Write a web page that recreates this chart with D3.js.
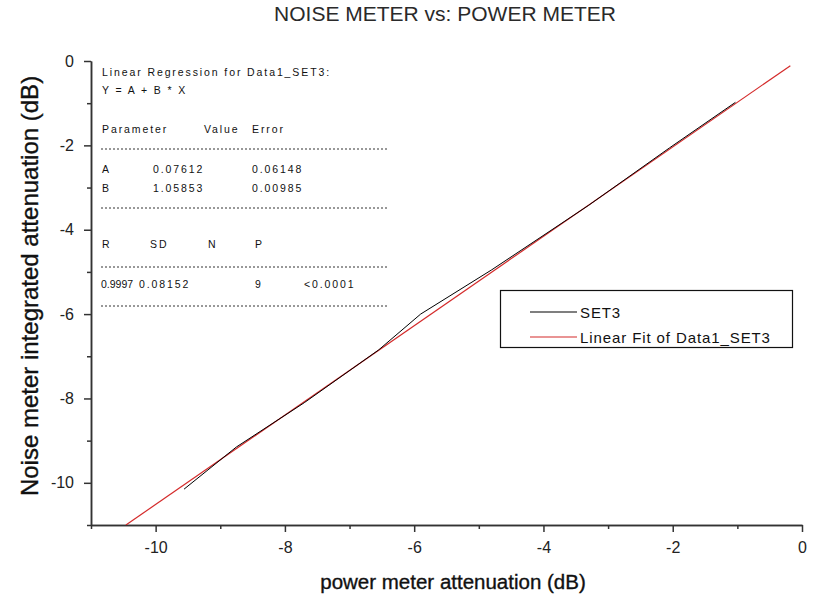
<!DOCTYPE html>
<html>
<head>
<meta charset="utf-8">
<script src="https://cdn.jsdelivr.net/npm/d3@7"></script>
<style>
  body { margin: 0; background: #fff; }
  svg text { font-family: Arial, "Liberation Sans", sans-serif; fill: #111; }
</style>
</head>
<body>
<script>
// SET3 measurements (power meter dB vs noise meter dB)
var powerMeter = [-9.56, -8.75, -7.70, -6.55, -5.90, -4.80, -3.30, -2.05, -1.03];
var noiseMeter = [-10.15, -9.15, -8.10, -6.85, -6.00, -4.95, -3.42, -2.06, -0.98];

// linear fit line, end points
var fitX = [-10.46, -0.18];
var fitY = [-11.0, -0.11];

var majorTicks = [-10, -8, -6, -4, -2, 0];
var minorTicks = [-11, -9, -7, -5, -3, -1];

var statsHead = ["Linear Regression for Data1_SET3:", "Y = A + B * X"];
var paramHead = ["Parameter", "Value", "Error"];
var paramRows = [["A", "0.07612", "0.06148"], ["B", "1.05853", "0.00985"]];
var fitHead = ["R", "SD", "N", "P"];
var fitRow = ["0.9997", "0.08152", "9", "<0.0001"];

var seriesNames = ["SET3", "Linear Fit of Data1_SET3"];
var seriesColors = ["#000000", "#d42a2a"];

var W = 819, H = 599;

var svg = d3.select("body").append("svg")
    .attr("width", W)
    .attr("height", H);

var x = d3.scaleLinear().domain([-11, 0]).range([91, 802]);
var y = d3.scaleLinear().domain([-11, 0]).range([525, 61]);

svg.append("clipPath").attr("id", "plot")
  .append("rect")
    .attr("x", x(-11)).attr("y", y(0))
    .attr("width", x(0) - x(-11)).attr("height", y(-11) - y(0));

// title and axis titles
svg.append("text")
    .attr("x", 445).attr("y", 21)
    .attr("text-anchor", "middle")
    .style("font-size", "21px")
    .style("fill", "#2a2a2a")
    .text("NOISE METER vs: POWER METER");

svg.append("text")
    .attr("x", 453).attr("y", 589)
    .attr("text-anchor", "middle")
    .style("font-size", "20.5px")
    .style("stroke", "#111").style("stroke-width", 0.35)
    .text("power meter attenuation (dB)");

svg.append("text")
    .attr("transform", "translate(38," + 286 + ") rotate(-90)")
    .attr("text-anchor", "middle")
    .style("font-size", "24px")
    .style("stroke", "#111").style("stroke-width", 0.35)
    .text("Noise meter integrated attenuation (dB)");

// axes: major ticks with labels, minor ticks without
var fmt = function(d){ return d3.format("d")(d).replace("\u2212", "-"); };

var gx = svg.append("g").attr("transform", "translate(0," + y(-11) + ")");
gx.append("g").call(d3.axisBottom(x).tickValues(minorTicks).tickSize(4).tickSizeOuter(0).tickFormat(""));
var gxMajor = gx.append("g").call(d3.axisBottom(x).tickValues(majorTicks).tickSize(7).tickSizeOuter(0).tickFormat(fmt));

var gy = svg.append("g").attr("transform", "translate(" + x(-11) + ",0)");
gy.append("g").call(d3.axisLeft(y).tickValues(minorTicks).tickSize(4).tickSizeOuter(0).tickFormat(""));
var gyMajor = gy.append("g").call(d3.axisLeft(y).tickValues(majorTicks).tickSize(7).tickSizeOuter(0).tickFormat(fmt));

svg.selectAll(".domain").attr("stroke", "#333").attr("stroke-width", 1.5);
svg.selectAll(".tick line").attr("stroke", "#333").attr("stroke-width", 1.5);
gxMajor.selectAll(".tick text").style("font-size", "16px").attr("dy", "1.05em").attr("y", 11);
gyMajor.selectAll(".tick text").style("font-size", "16px").attr("x", -17);
svg.selectAll(".tick text").style("fill", "#222");

// lines
var line = d3.line().x(function(d){ return x(d[0]); }).y(function(d){ return y(d[1]); });

svg.append("path")
    .datum(d3.zip(fitX, fitY))
    .attr("clip-path", "url(#plot)")
    .attr("fill", "none")
    .attr("stroke", seriesColors[1])
    .attr("stroke-width", 1.2)
    .attr("d", line);

svg.append("path")
    .datum(d3.zip(powerMeter, noiseMeter))
    .attr("clip-path", "url(#plot)")
    .attr("fill", "none")
    .attr("stroke", seriesColors[0])
    .attr("stroke-width", 1)
    .attr("d", line);

// regression report
var rep = svg.append("g").style("font-size", "10.5px").style("letter-spacing", "1.9px");
rep.selectAll("text.head").data(statsHead).enter().append("text")
    .attr("x", 102).attr("y", function(d, i){ return 76 + i * 18; })
    .text(function(d){ return d; });

var pcol = [102, 204, 252];
rep.selectAll("text.ph").data(paramHead).enter().append("text")
    .attr("x", function(d, i){ return pcol[i]; }).attr("y", 133)
    .text(function(d){ return d; });

var vcol = [102, 153, 252];
paramRows.forEach(function(row, r) {
  rep.selectAll("text.pr" + r).data(row).enter().append("text")
      .attr("x", function(d, i){ return vcol[i]; }).attr("y", 173 + r * 19)
      .text(function(d){ return d; });
});

var fcol = [102, 150, 208, 255];
rep.selectAll("text.fh").data(fitHead).enter().append("text")
    .attr("x", function(d, i){ return fcol[i]; }).attr("y", 248)
    .text(function(d){ return d; });

var rcol = [101, 139, 255, 304];
rep.selectAll("text.fr").data(fitRow).enter().append("text")
    .attr("x", function(d, i){ return rcol[i]; }).attr("y", 288)
    .style("letter-spacing", function(d, i){ return i === 0 ? "0px" : null; })
    .text(function(d){ return d; });

rep.selectAll("line").data([149, 208, 267, 306]).enter().append("line")
    .attr("x1", 101).attr("x2", 387)
    .attr("y1", function(d){ return d; }).attr("y2", function(d){ return d; })
    .attr("stroke", "#333").attr("stroke-width", 1)
    .attr("stroke-dasharray", "2,2");

// legend
var lg = svg.append("g");
lg.append("rect")
    .attr("x", 500.5).attr("y", 290.5)
    .attr("width", 292).attr("height", 57)
    .attr("fill", "#fff").attr("stroke", "#111").attr("stroke-width", 1.2);

seriesNames.forEach(function(name, i) {
  var cy = 312 + i * 25;
  lg.append("line")
      .attr("x1", 530).attr("x2", 577)
      .attr("y1", cy).attr("y2", cy)
      .attr("stroke", seriesColors[i]).attr("stroke-width", 1.2);
  lg.append("text")
      .attr("x", 580).attr("y", cy + 6)
      .style("font-size", "15px").style("letter-spacing", "0.9px")
      .text(name);
});
</script>
</body>
</html>
